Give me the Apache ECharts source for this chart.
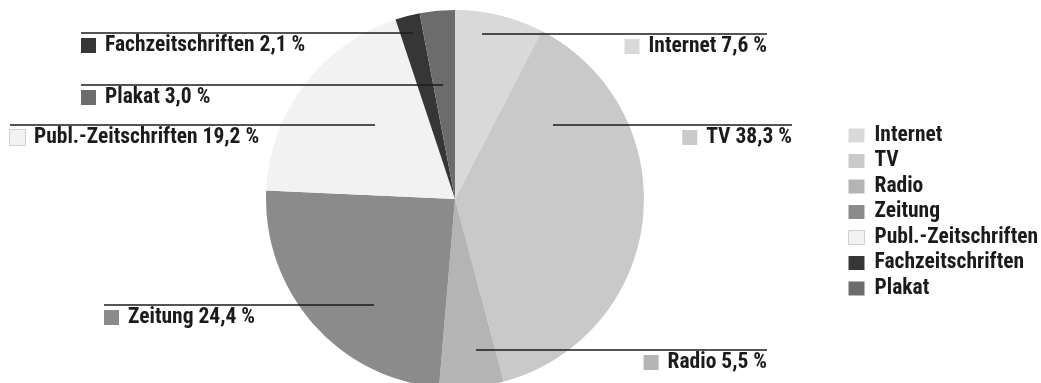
<!DOCTYPE html>
<html>
<head>
<meta charset="utf-8">
<script src="https://cdn.jsdelivr.net/npm/echarts@6/dist/echarts.min.js"></script>
<style>
  html, body { margin: 0; padding: 0; background: #ffffff; }
  #chart { width: 1041px; height: 383px; }
</style>
</head>
<body>
<div id="chart"></div>
<script>
// Werbeaufwand nach Mediengattung, Anteile in Prozent
const categories = ['Internet', 'TV', 'Radio', 'Zeitung', 'Publ.-Zeitschriften', 'Fachzeitschriften', 'Plakat'];
const shares = [7.6, 38.3, 5.5, 24.4, 19.2, 2.1, 3.0];
const colors = ['#d9d9d9', '#c9c9c9', '#b4b4b4', '#8b8b8b', '#f2f2f2', '#363636', '#6c6c6c'];

const INK = '#1b1b1b';
const WEIGHT = 'bold';

// pick the narrowest installed face from a preference list
function fontAvailable(name) {
  const ctx = document.createElement('canvas').getContext('2d');
  const probe = 'Publ.-Zeitschriften 19,2 %';
  for (const base of ['monospace', 'serif']) {
    ctx.font = 'bold 40px ' + base;
    const w0 = ctx.measureText(probe).width;
    ctx.font = "bold 40px '" + name + "', " + base;
    if (ctx.measureText(probe).width !== w0) return true;
  }
  return false;
}
const FACE = ['Roboto Condensed', 'Liberation Sans Narrow', 'Arial Narrow', 'Noto Sans Condensed', 'DejaVu Sans Condensed']
  .find(fontAvailable) || 'sans-serif';
const FONT = "'" + FACE + "', sans-serif";

// size the type so the longest strings keep their column widths
function fitSize(text, width, maxSize) {
  const ctx = document.createElement('canvas').getContext('2d');
  ctx.font = WEIGHT + ' 100px ' + FONT;
  return Math.min(maxSize, Math.floor(100 * width / ctx.measureText(text).width * 2) / 2);
}
const LABEL_SIZE = fitSize('Publ.-Zeitschriften 19,2 %', 230, 23);
const LEGEND_SIZE = fitSize('Publ.-Zeitschriften', 166, 22);

// Pie placement
const CX = 455, CY = 199, R = 189;

// Leader lines, relative to the pie centre: vertical offset of the line,
// x where it starts inside the slice and x where it ends beside the label.
const callouts = [
  { dy: -165, from:  27, to:  312 },
  { dy:  -74, from:  98, to:  337 },
  { dy:  151, from:  21, to:  312 },
  { dy:  106, from: -81, to: -351 },
  { dy:  -74, from: -80, to: -445 },
  { dy: -166, from: -42, to: -374 },
  { dy: -114, from: -12, to: -374 }
];

const fmtPct = v => v.toFixed(1).replace('.', ',') + ' %';

// one swatch style per slice for the label rich text
const rich = {
  t: { fontFamily: FONT, fontSize: LABEL_SIZE, fontWeight: WEIGHT, color: INK, lineHeight: 23 },
  g: { width: 9 }
};
colors.forEach((c, i) => {
  rich['m' + i] = {
    backgroundColor: c, width: 15, height: 15, verticalAlign: 'middle',
    borderColor: i === 4 ? '#cfcfcf' : c, borderWidth: i === 4 ? 1 : 0
  };
});

const sliceData = categories.map((name, i) => ({ name, value: shares[i] }));

const chart = echarts.init(document.getElementById('chart'), null, { renderer: 'canvas' });

chart.setOption({
  animation: false,
  backgroundColor: '#ffffff',
  color: colors,
  legend: {
    orient: 'vertical',
    left: 848,
    top: 124.5,
    padding: 0,
    icon: 'rect',
    itemWidth: 16,
    itemHeight: 14,
    itemGap: 3.5,
    selectedMode: false,
    textStyle: { fontFamily: FONT, fontSize: LEGEND_SIZE, fontWeight: WEIGHT, color: INK, lineHeight: 22, padding: [0, 0, 0, 5] },
    data: categories.map((name, i) => ({
      name,
      itemStyle: i === 4
        ? { color: colors[i], borderColor: '#cfcfcf', borderWidth: 1 }
        : { color: colors[i] }
    }))
  },
  series: [
    {
      // the slices
      type: 'pie',
      z: 2,
      center: [CX, CY],
      radius: [0, R],
      startAngle: 90,
      clockwise: true,
      silent: true,
      label: { show: false },
      labelLine: { show: false },
      itemStyle: { borderWidth: 0 },
      data: sliceData
    },
    {
      // same geometry, invisible fill, carries the callouts above the slices
      type: 'pie',
      z: 3,
      center: [CX, CY],
      radius: [0, R],
      startAngle: 90,
      clockwise: true,
      silent: true,
      avoidLabelOverlap: false,
      itemStyle: { color: 'rgba(0,0,0,0)', borderWidth: 0 },
      label: {
        show: true,
        position: 'outside',
        formatter: p => '{m' + p.dataIndex + '| }{g|}{t|' + p.name + ' ' + fmtPct(p.value) + '}',
        rich
      },
      labelLine: {
        show: true,
        smooth: false,
        lineStyle: { color: INK, width: 1.6 }
      },
      labelLayout: params => {
        const c = callouts[params.dataIndex];
        const y = CY + c.dy;
        const x0 = CX + c.from;
        const x1 = CX + c.to;
        return {
          x: x1,
          y: y + 1,
          align: c.to > 0 ? 'right' : 'left',
          verticalAlign: 'top',
          hideOverlap: false,
          labelLinePoints: [[x0, y], [x1, y]]
        };
      },
      data: sliceData
    }
  ]
});
</script>
</body>
</html>
